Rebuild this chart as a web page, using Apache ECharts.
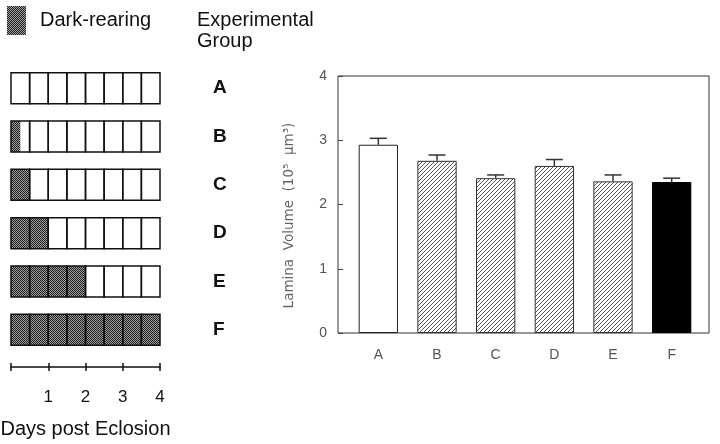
<!DOCTYPE html>
<html><head><meta charset="utf-8">
<script src="https://cdn.jsdelivr.net/npm/echarts@6/dist/echarts.min.js"></script>
<style>html,body{margin:0;padding:0;background:#fff}#c{width:720px;height:444px}</style>
</head><body><div id="c"></div>
<script>
// ---- data ----
const groups = ['A', 'B', 'C', 'D', 'E', 'F'];
const darkDays = [0, 0.25, 0.5, 1, 2, 4];      // days of dark-rearing per group
const totalDays = 4;
const cellDays = 0.5;
const laminaVolume = [2.93, 2.68, 2.41, 2.60, 2.36, 2.35]; // 10^5 µm^3
const laminaSEM = [0.10, 0.09, 0.05, 0.10, 0.10, 0.06];
const volumeTicks = [0, 1, 2, 3, 4];

// ---- patterns ----
function makePattern(size, draw) {
  const c = document.createElement('canvas');
  c.width = c.height = size;
  draw(c.getContext('2d'), size);
  return { image: c, repeat: 'repeat' };
}
const darkPat = makePattern(2, (g) => {
  g.fillStyle = '#9c9c9c'; g.fillRect(0, 0, 2, 2);
  g.fillStyle = '#222'; g.fillRect(0, 0, 1, 1); g.fillRect(1, 1, 1, 1);
});
const hatchPat = makePattern(4, (g, s) => {
  g.fillStyle = '#fff'; g.fillRect(0, 0, s, s);
  g.strokeStyle = '#444'; g.lineWidth = 0.9;
  g.beginPath();
  g.moveTo(0, s); g.lineTo(s, 0);
  g.moveTo(-1, 1); g.lineTo(1, -1);
  g.moveTo(s - 1, s + 1); g.lineTo(s + 1, s - 1);
  g.stroke();
});

function barStyle(i) {
  if (i === 0) return { color: '#fff', borderColor: '#222', borderWidth: 1 };
  if (i === groups.length - 1) return { color: '#000', borderColor: '#000', borderWidth: 1 };
  return { color: hatchPat, borderColor: '#333', borderWidth: 1 };
}

const FONT = 'Liberation Sans';
const chart = echarts.init(document.getElementById('c'), null, { renderer: 'canvas' });

chart.setOption({
  animation: false,
  backgroundColor: '#fff',
  textStyle: { fontFamily: FONT },
  title: {
    text: 'Experimental\nGroup', left: 197, top: 10, padding: 0,
    textStyle: { fontFamily: FONT, fontSize: 20, fontWeight: 'normal', color: '#111', lineHeight: 21 }
  },
  legend: {
    left: 7, top: 6, padding: 0, itemWidth: 19, itemHeight: 29, selectedMode: false,
    data: [{ name: 'Dark-rearing', icon: 'rect', itemStyle: { color: darkPat } }],
    textStyle: { fontFamily: FONT, fontSize: 20, color: '#111', padding: [0, 0, 0, 9] }
  },
  grid: [
    { left: 11, top: 64, width: 149, height: 290, outerBoundsMode: 'none' },
    { left: 338, top: 76, width: 371, height: 257, show: true, borderColor: '#333', borderWidth: 1, backgroundColor: 'transparent', outerBoundsMode: 'none' },
    { left: 349, top: 76, width: 352, height: 257, outerBoundsMode: 'none' }
  ],
  xAxis: [
    { // days scale (outer ticks + labels)
      gridIndex: 0, type: 'value', min: 0, max: totalDays, interval: 1, position: 'bottom', offset: 13,
      axisLine: { show: true, lineStyle: { color: '#111', width: 1.5 } },
      axisTick: { show: true, inside: false, length: 4, lineStyle: { color: '#111', width: 1.5 } },
      axisLabel: { show: true, margin: 22, fontFamily: FONT, fontSize: 17, color: '#111',
        formatter: v => (v === 0 ? '' : String(v)) },
      splitLine: { show: false },
      name: 'Days post Eclosion', nameLocation: 'middle', nameGap: 52,
      nameTextStyle: { fontFamily: FONT, fontSize: 20, color: '#111' }
    },
    { // days scale (inner ticks)
      gridIndex: 0, type: 'value', min: 0, max: totalDays, interval: 1, position: 'bottom', offset: 13,
      axisLine: { show: false },
      axisTick: { show: true, inside: true, length: 4, lineStyle: { color: '#111', width: 1.5 } },
      axisLabel: { show: false }, splitLine: { show: false }
    },
    { gridIndex: 1, type: 'value', min: 0, max: 1, show: false },
    {
      gridIndex: 2, type: 'category', data: groups, boundaryGap: true,
      axisLine: { show: false }, axisTick: { show: false }, splitLine: { show: false },
      axisLabel: { margin: 15, fontFamily: FONT, fontSize: 14, color: '#555' }
    }
  ],
  yAxis: [
    {
      gridIndex: 0, type: 'category', data: groups, inverse: true, position: 'right',
      axisLine: { show: false }, axisTick: { show: false }, splitLine: { show: false },
      axisLabel: { margin: 53, fontFamily: FONT, fontSize: 19, fontWeight: 'bold', color: '#111' }
    },
    { gridIndex: 1, type: 'value', min: 0, max: 1, show: false },
    {
      gridIndex: 2, type: 'value', min: volumeTicks[0], max: volumeTicks[volumeTicks.length - 1], interval: 1, offset: 11,
      axisLine: { show: false },
      axisTick: { show: true, inside: true, length: 5, lineStyle: { color: '#444' } },
      splitLine: { show: false },
      axisLabel: { margin: 11, fontFamily: FONT, fontSize: 14, color: '#555' },
      name: 'Lamina  Volume  (10\u2075  \u00b5m\u00b3)', nameLocation: 'middle', nameGap: 42,
      nameTextStyle: { fontFamily: 'DejaVu Sans', fontSize: 13.5, color: '#666', padding: [0, 22, 0, 0] }
    }
  ],
  series: [
    {
      name: 'Dark-rearing', type: 'custom', xAxisIndex: 0, yAxisIndex: 0,
      itemStyle: { color: '#555' },
      encode: { x: 0, y: 1 },
      data: groups.map((g, i) => [darkDays[i], i]),
      renderItem: (params, api) => {
        const dark = api.value(0), row = api.value(1);
        const p0 = api.coord([0, row]);
        const p4 = api.coord([totalDays, row]);
        const h = api.size([0, 1])[1] * 0.64;
        const y = p0[1] - h / 2;
        const children = [{ type: 'rect', shape: { x: p0[0], y, width: p4[0] - p0[0], height: h }, style: { fill: '#fff' } }];
        if (dark > 0) {
          const pd = api.coord([dark, row]);
          children.push({ type: 'rect', shape: { x: p0[0], y, width: pd[0] - p0[0], height: h }, style: { fill: darkPat } });
        }
        for (let d = 0; d < totalDays; d += cellDays) {
          const a = api.coord([d, row]), b = api.coord([d + cellDays, row]);
          children.push({ type: 'rect', shape: { x: a[0], y, width: b[0] - a[0], height: h },
            style: { fill: null, stroke: '#111', lineWidth: 1.5 } });
        }
        return { type: 'group', children };
      }
    },
    {
      name: 'Lamina volume', type: 'bar', xAxisIndex: 3, yAxisIndex: 2, barWidth: '67%',
      data: laminaVolume.map((v, i) => ({ value: v, itemStyle: barStyle(i) })),
      z: 2
    },
    {
      name: 'SEM', type: 'custom', xAxisIndex: 3, yAxisIndex: 2, z: 3,
      encode: { x: 0, y: [1, 2] },
      data: groups.map((g, i) => [i, laminaVolume[i], laminaVolume[i] + laminaSEM[i]]),
      renderItem: (params, api) => {
        const i = api.value(0);
        const base = api.coord([i, api.value(1)]);
        const top = api.coord([i, api.value(2)]);
        const hw = 8.5;
        const st = { stroke: '#333', lineWidth: 1.5 };
        return { type: 'group', children: [
          { type: 'line', shape: { x1: base[0], y1: base[1], x2: top[0], y2: top[1] }, style: st },
          { type: 'line', shape: { x1: top[0] - hw, y1: top[1], x2: top[0] + hw, y2: top[1] }, style: st }
        ] };
      }
    }
  ]
});
</script>
</body></html>
